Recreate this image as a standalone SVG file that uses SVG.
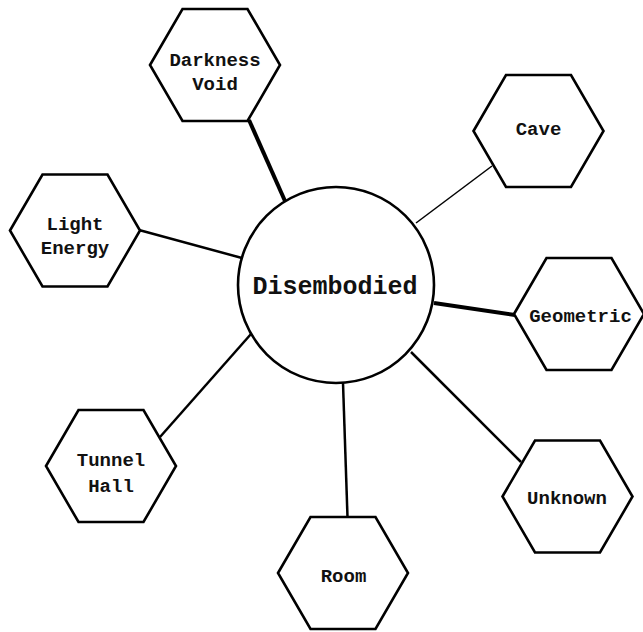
<svg xmlns="http://www.w3.org/2000/svg" xmlns:xlink="http://www.w3.org/1999/xlink" width="643" height="632" viewBox="0 0 643 632">
  <style>
    .shape { fill: #ffffff; stroke: #000000; stroke-width: 2.6; stroke-linejoin: miter; }
    .label { font-family: "Liberation Mono", "Courier New", monospace; font-weight: bold; font-size: 19px; fill: #111111; text-anchor: middle; }
    .hub { font-size: 25px; }
    .link { stroke: #000000; stroke-linecap: butt; fill: none; }
  </style>
  <defs>
    <polygon id="hex" points="-65,0 -32.5,-56 32.5,-56 65,0 32.5,56 -32.5,56"/>
  </defs>
  <rect width="643" height="632" fill="#ffffff"/>

  <g id="connectors">
    <line class="link" x1="249" y1="120" x2="285" y2="201" stroke-width="4"/>
    <line class="link" x1="492" y1="166" x2="416" y2="223" stroke-width="1.5"/>
    <line class="link" x1="139" y1="230" x2="242" y2="258" stroke-width="2.5"/>
    <line class="link" x1="515" y1="315" x2="434" y2="303" stroke-width="4"/>
    <line class="link" x1="160" y1="437" x2="251" y2="334" stroke-width="2.5"/>
    <line class="link" x1="521" y1="462" x2="411" y2="352" stroke-width="2.5"/>
    <line class="link" x1="347.5" y1="517" x2="343" y2="383" stroke-width="2.5"/>
  </g>

  <g id="disembodied">
    <circle class="shape" cx="336" cy="285" r="98"/>
    <text class="label hub" x="335" y="294">Disembodied</text>
  </g>

  <g id="darkness-void">
    <use xlink:href="#hex" class="shape" x="215" y="65"/>
    <text class="label" x="215" y="66">Darkness</text>
    <text class="label" x="215" y="90">Void</text>
  </g>

  <g id="cave">
    <use xlink:href="#hex" class="shape" x="538.5" y="131"/>
    <text class="label" x="538.5" y="134.5">Cave</text>
  </g>

  <g id="light-energy">
    <use xlink:href="#hex" class="shape" x="75" y="230.5"/>
    <text class="label" x="75" y="230">Light</text>
    <text class="label" x="75" y="253.5">Energy</text>
  </g>

  <g id="geometric">
    <use xlink:href="#hex" class="shape" x="579" y="314"/>
    <text class="label" x="580.5" y="321.5">Geometric</text>
  </g>

  <g id="tunnel-hall">
    <use xlink:href="#hex" class="shape" x="111" y="466"/>
    <text class="label" x="111" y="465.5">Tunnel</text>
    <text class="label" x="111" y="491.5">Hall</text>
  </g>

  <g id="unknown">
    <use xlink:href="#hex" class="shape" x="567.5" y="496.5"/>
    <text class="label" x="567" y="504">Unknown</text>
  </g>

  <g id="room">
    <use xlink:href="#hex" class="shape" x="343" y="573"/>
    <text class="label" x="343.5" y="581.5">Room</text>
  </g>
</svg>
